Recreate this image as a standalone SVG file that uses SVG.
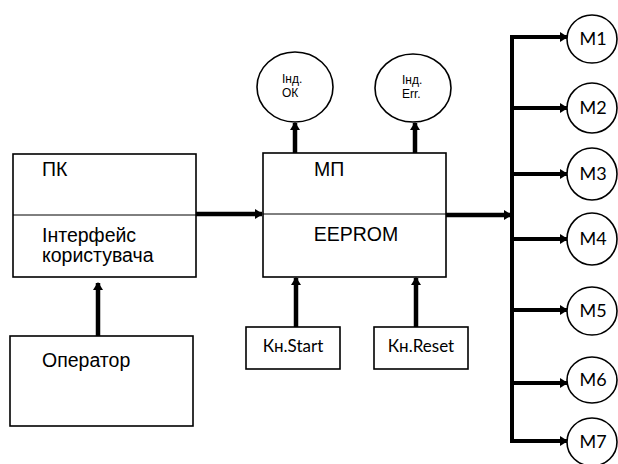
<svg xmlns="http://www.w3.org/2000/svg" width="618" height="464" viewBox="0 0 618 464">
<style>
.box{fill:#fff;stroke:#000;stroke-width:1.6}
.div{stroke:#000;stroke-width:1}
.c{fill:#fff;stroke:#000;stroke-width:1.6}
.t{font-family:"Liberation Sans",Arial,sans-serif;font-size:19.5px;fill:#000}
.s{font-family:"Liberation Sans",Arial,sans-serif;font-size:12px;fill:#000}
.k{font-family:Lato,"Open Sans",sans-serif;font-size:17px;fill:#000}
.m{font-family:Lato,"Open Sans",sans-serif;font-size:18px;fill:#000}
.w{stroke:#000;stroke-width:4.5;fill:none}
.b{stroke:#000;stroke-width:4;fill:none}
</style>
<defs>
<marker id="ah" markerUnits="userSpaceOnUse" markerWidth="8" markerHeight="10" refX="7" refY="5" orient="auto">
<path d="M0,0 L8,5 L0,10 Z" fill="#000"/>
</marker>
</defs>
<g id="connectors">
<line class="w" x1="98" y1="336" x2="98" y2="283" marker-end="url(#ah)"/>
<line class="w" x1="196" y1="214" x2="262" y2="214" marker-end="url(#ah)"/>
<line class="w" x1="295" y1="153" x2="295" y2="123" marker-end="url(#ah)"/>
<line class="w" x1="415" y1="153" x2="415" y2="123" marker-end="url(#ah)"/>
<line class="w" x1="296" y1="327" x2="296" y2="278" marker-end="url(#ah)"/>
<line class="w" x1="416" y1="327" x2="416" y2="278" marker-end="url(#ah)"/>
<line class="w" x1="446" y1="215" x2="511" y2="215" marker-end="url(#ah)"/>
<path class="b" d="M568,37 H512 V441 H568"/>
<line class="b" x1="512" y1="37" x2="567" y2="37" marker-end="url(#ah)"/>
<line class="b" x1="512" y1="108" x2="567" y2="108" marker-end="url(#ah)"/>
<line class="b" x1="512" y1="174" x2="567" y2="174" marker-end="url(#ah)"/>
<line class="b" x1="512" y1="239" x2="567" y2="239" marker-end="url(#ah)"/>
<line class="b" x1="512" y1="310" x2="567" y2="310" marker-end="url(#ah)"/>
<line class="b" x1="512" y1="383" x2="567" y2="383" marker-end="url(#ah)"/>
<line class="b" x1="512" y1="441" x2="567" y2="441" marker-end="url(#ah)"/>
</g>
<g id="pk">
<rect class="box" x="13" y="154" width="183" height="123"/>
<line class="div" x1="13" y1="215" x2="196" y2="215"/>
<text class="t" x="42" y="176">ПК</text>
<text class="t" x="42" y="242">Інтерфейс</text>
<text class="t" x="42" y="262">користувача</text>
</g>
<g id="operator">
<rect class="box" x="10" y="336" width="183" height="90"/>
<text class="t" x="42" y="367">Оператор</text>
</g>
<g id="mp">
<rect class="box" x="263" y="153" width="183" height="124"/>
<line class="div" x1="263" y1="214" x2="446" y2="214"/>
<text class="t" x="314" y="176">МП</text>
<text class="t" x="356" y="241" text-anchor="middle">EEPROM</text>
</g>
<g id="ind-ok">
<ellipse class="c" cx="295" cy="87" rx="38" ry="35"/>
<text class="s" x="282" y="83">Інд.</text>
<text class="s" x="282" y="97">ОК</text>
</g>
<g id="ind-err">
<ellipse class="c" cx="413" cy="88" rx="38" ry="34"/>
<text class="s" x="402" y="84">Інд.</text>
<text class="s" x="402" y="98">Err.</text>
</g>
<g id="start">
<rect class="box" x="246" y="327" width="94" height="42"/>
<text class="k" x="293" y="352" text-anchor="middle">Кн.Start</text>
</g>
<g id="reset">
<rect class="box" x="374" y="327" width="94" height="42"/>
<text class="k" x="421" y="352" text-anchor="middle">Кн.Reset</text>
</g>
<g id="m1"><ellipse class="c" cx="592" cy="39" rx="25" ry="24"/><text class="m" x="593" y="45" text-anchor="middle">M1</text></g>
<g id="m2"><ellipse class="c" cx="592" cy="108" rx="25" ry="25"/><text class="m" x="593" y="114" text-anchor="middle">M2</text></g>
<g id="m3"><ellipse class="c" cx="592" cy="174" rx="25" ry="26"/><text class="m" x="593" y="180" text-anchor="middle">M3</text></g>
<g id="m4"><ellipse class="c" cx="592" cy="239" rx="25" ry="26"/><text class="m" x="593" y="245" text-anchor="middle">M4</text></g>
<g id="m5"><ellipse class="c" cx="592" cy="311" rx="25" ry="24"/><text class="m" x="593" y="317" text-anchor="middle">M5</text></g>
<g id="m6"><ellipse class="c" cx="592" cy="380" rx="25" ry="23"/><text class="m" x="593" y="386" text-anchor="middle">M6</text></g>
<g id="m7"><ellipse class="c" cx="592" cy="442" rx="25" ry="24"/><text class="m" x="593" y="448" text-anchor="middle">M7</text></g>
</svg>
